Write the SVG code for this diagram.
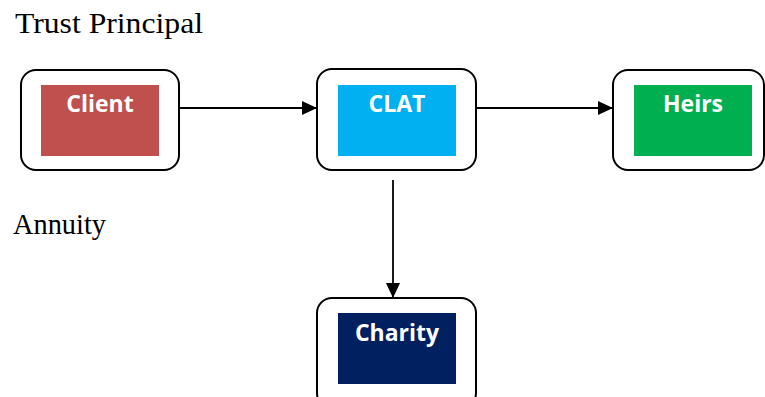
<svg xmlns="http://www.w3.org/2000/svg" width="765" height="397" viewBox="0 0 765 397">
  <defs>
    <marker id="arrow" markerWidth="15" markerHeight="14" refX="15" refY="7" orient="auto" markerUnits="userSpaceOnUse">
      <path d="M0,0 L15,7 L0,14 Z" fill="#000"/>
    </marker>
  </defs>
  <style>
    .outer { fill: #fff; stroke: #000; stroke-width: 2; }
    .label { font-family: "Open Sans", "Liberation Sans", sans-serif; font-weight: bold; font-size: 23px; fill: #fff; text-anchor: middle; }
    .plain { font-family: "Liberation Serif", "Times New Roman", serif; font-size: 30px; fill: #000; }
    .conn { stroke: #000; stroke-width: 1.8; fill: none; marker-end: url(#arrow); }
  </style>
  <rect width="765" height="397" fill="#fff"/>
  <text class="plain" x="15" y="33" textLength="188" lengthAdjust="spacingAndGlyphs">Trust Principal</text>
  <text class="plain" x="13" y="234" textLength="93" lengthAdjust="spacingAndGlyphs">Annuity</text>
  <g id="connectors">
    <line class="conn" x1="179" y1="108" x2="317" y2="108"/>
    <line class="conn" x1="476" y1="108" x2="613" y2="108"/>
    <line class="conn" x1="393" y1="180" x2="393" y2="298"/>
  </g>
  <g id="client">
    <rect class="outer" x="21" y="70" width="158" height="100" rx="15"/>
    <rect x="41" y="85" width="118" height="71" fill="#C0504D"/>
    <text class="label" x="100" y="111.5">Client</text>
  </g>
  <g id="clat">
    <rect class="outer" x="317" y="69" width="159" height="101" rx="15"/>
    <rect x="338" y="85" width="118" height="71" fill="#00B0F0"/>
    <text class="label" x="397" y="111.5">CLAT</text>
  </g>
  <g id="heirs">
    <rect class="outer" x="613" y="70" width="151" height="100" rx="15"/>
    <rect x="634" y="85" width="118" height="71" fill="#00B050"/>
    <text class="label" x="693" y="111.5">Heirs</text>
  </g>
  <g id="charity">
    <rect class="outer" x="317" y="298" width="159" height="110" rx="15"/>
    <rect x="338" y="313" width="118" height="71" fill="#002060"/>
    <text class="label" x="397" y="340.5">Charity</text>
  </g>
</svg>
